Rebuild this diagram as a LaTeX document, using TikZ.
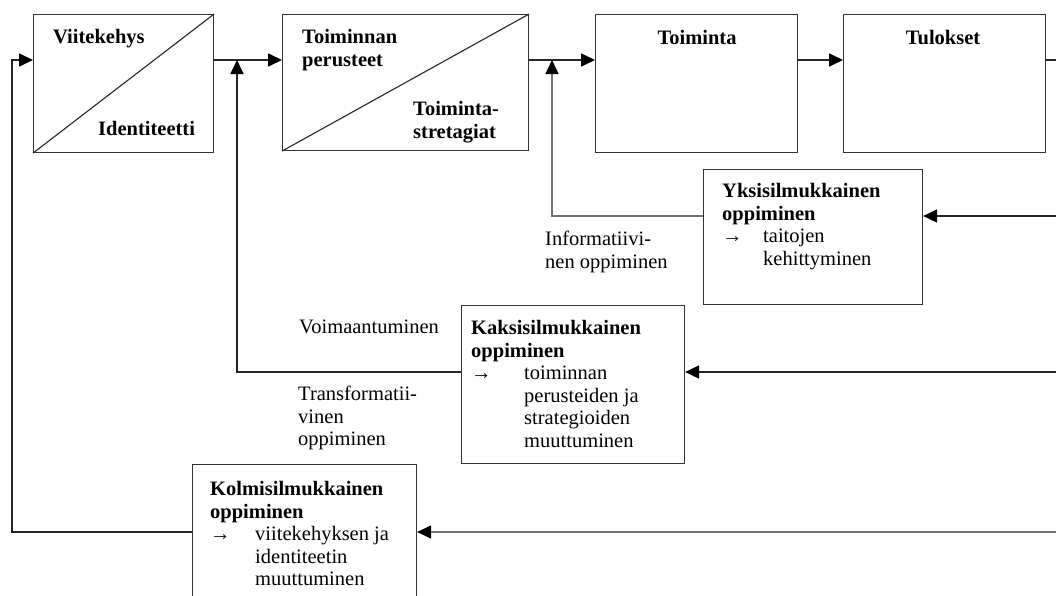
\documentclass[tikz,border=0pt]{standalone}
\usepackage{fontspec}
\setmainfont{Liberation Serif}
\usetikzlibrary{arrows.meta}
\begin{document}
\begin{tikzpicture}[x=1pt,y=-1pt,
  box/.style={draw=black!80, line width=1.1pt, inner sep=0pt, anchor=north west},
  conn/.style={line width=1.7pt, black!85},
  fb/.style={line width=1.4pt, black!55},
  arr/.style={-{Triangle[length=14pt,width=13pt,color=black]}},
  txt/.style={inner sep=0pt, font=\fontsize{20.5}{22.6}\selectfont, align=left},
]
\clip (0,0) rectangle (1056,595);
\fill[white] (0,0) rectangle (1056,595);

% boxes
\node[box, minimum width=180pt, minimum height=138pt] (b1) at (33,14) {};
\node[box, minimum width=246pt, minimum height=136pt] (b2) at (282,14) {};
\node[box, minimum width=202pt, minimum height=138pt] (b3) at (595,14) {};
\node[box, minimum width=202pt, minimum height=138pt] (b4) at (843,14) {};
\node[box, minimum width=219pt, minimum height=135pt] (yk) at (703,169) {};
\node[box, minimum width=223pt, minimum height=158pt] (kk) at (461,305) {};
\node[box, minimum width=224pt, minimum height=150pt] (km) at (192,464) {};

\draw[line width=1.1pt, black!85] (b1.south west) -- (b1.north east);
\draw[line width=1.1pt, black!85] (b2.south west) -- (b2.north east);

% coordinates
\coordinate (m) at (0,60);
\coordinate (j0) at (12,60);
\coordinate (j1) at (237,60);
\coordinate (j2) at (552,60);
\coordinate (R1) at (1056,60);
\coordinate (R2) at (1056,216);
\coordinate (R3) at (1056,372);
\coordinate (R4) at (1056,532);

% main chain
\draw[conn,arr] (b1.north east |- m) -- (b2.north west |- m);
\draw[conn,arr] (b2.north east |- m) -- (b3.north west |- m);
\draw[conn,arr] (b3.north east |- m) -- (b4.north west |- m);
\draw[conn] (b4.north east |- m) -- (R1);

% feedback
\draw[conn,arr] (R2) -- (yk.east |- R2);
\draw[fb,arr] (yk.west |- R2) -| (j2);
\draw[conn,arr] (R3) -- (kk.east |- R3);
\draw[conn,arr] (kk.west |- R3) -| (j1);
\draw[fb,arr] (R4) -- (km.east |- R4);
\draw[conn,arr] (km.west |- R4) -| (j0) -- (b1.north west |- m);

% texts
\node[txt, anchor=base west] (t1a) at (53,43) {\textbf{Viitekehys}};
\node[txt, anchor=base west] (t1b) at (98,135) {\textbf{Identiteetti}};
\node[txt, anchor=north west] (t2a) at (302,29) {\textbf{Toiminnan}\\\textbf{perusteet}};
\node[txt, anchor=north west] (t2b) at (413,101) {\textbf{Toiminta-}\\\textbf{stretagiat}};
\node[txt, anchor=base] (t3) at (697,44) {\textbf{Toiminta}};
\node[txt, anchor=base] (t4) at (943,44) {\textbf{Tulokset}};

\node[txt, anchor=north west] (inf) at (545,231) {Informatiivi-\\nen oppiminen};
\node[txt, anchor=north west] (tyk) at (722,183)
  {\textbf{Yksisilmukkainen}\\\textbf{oppiminen}\\\makebox[41pt][l]{→}taitojen\\\hspace*{41pt}kehittyminen};

\node[txt, anchor=base west] (voi) at (299,333) {Voimaantuminen};
\node[txt, anchor=north west] (tra) at (298,386) {Transformatii-\\vinen\\oppiminen};
\node[txt, anchor=north west] (tkk) at (471,320)
  {\textbf{Kaksisilmukkainen}\\\textbf{oppiminen}\\\makebox[53pt][l]{→}toiminnan\\\hspace*{53pt}perusteiden ja\\\hspace*{53pt}strategioiden\\\hspace*{53pt}muuttuminen};

\node[txt, anchor=north west] (tkm) at (210,481)
  {\textbf{Kolmisilmukkainen}\\\textbf{oppiminen}\\\makebox[45pt][l]{→}viitekehyksen ja\\\hspace*{45pt}identiteetin\\\hspace*{45pt}muuttuminen};
\end{tikzpicture}
\end{document}
